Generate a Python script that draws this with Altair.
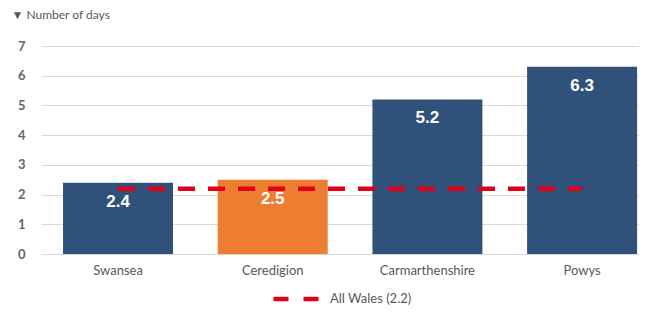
import altair as alt
import pandas as pd

categories = ["Swansea", "Ceredigion", "Carmarthenshire", "Powys"]
values = [2.4, 2.5, 5.2, 6.3]
bar_colors = ["#30527A", "#ED7D31", "#30527A", "#30527A"]
labels = ["2.4", "2.5", "5.2", "6.3"]
wales_value = 2.2
wales_label = "All Wales (2.2)"
y_ticks = [0, 1, 2, 3, 4, 5, 6, 7]

df = pd.DataFrame({"area": categories, "days": values, "color": bar_colors, "label": labels})
df_line = pd.DataFrame({"area": categories, "days": [wales_value] * len(categories),
                        "series": [wales_label] * len(categories)})

FONT = "Lato"
GRAY = "#595959"

x = alt.X("area:N", sort=categories,
          scale=alt.Scale(paddingInner=0.289, paddingOuter=0.0774, align=0.92),
          axis=alt.Axis(title=None, labelAngle=0, ticks=False, domain=False,
                        labelFont=FONT, labelFontSize=13, labelColor=GRAY, labelPadding=10))
y = alt.Y("days:Q", scale=alt.Scale(domain=[0, 7], nice=False),
          axis=alt.Axis(values=y_ticks, tickCount=len(y_ticks), labelOverlap=False,
                        title="▼ Number of days", titleAngle=0,
                        titleAlign="left", titleBaseline="middle", titleX=-30, titleY=-32,
                        titleFont=FONT, titleFontSize=12, titleFontWeight="normal",
                        titleColor=GRAY, ticks=False, domain=False,
                        labelFont=FONT, labelFontSize=13, labelFontWeight="bold",
                        labelColor="#666666", labelPadding=16,
                        gridColor="#D9D9D9", gridWidth=1))

bars = alt.Chart(df).mark_bar().encode(
    x=x, y=y, color=alt.Color("color:N", scale=None)
)

line = alt.Chart(df_line).mark_line(strokeDash=[17, 13], strokeWidth=4.5, strokeCap="butt").encode(
    x=x,
    y=y,
    stroke=alt.Stroke("series:N",
                      scale=alt.Scale(domain=[wales_label], range=["#E3001B"]),
                      legend=alt.Legend(title=None, orient="none", legendX=230, legendY=227,
                                        symbolType="stroke", symbolSize=2209,
                                        symbolStrokeWidth=4.5, symbolDash=[15, 15],
                                        labelFont=FONT, labelFontSize=13, labelColor=GRAY,
                                        labelOffset=7, padding=0))
)

text = alt.Chart(df).mark_text(color="white", font="Liberation Sans", fontWeight="bold",
                               fontSize=17, baseline="middle", dy=19).encode(
    x=x, y=y, text="label:N"
)

chart = alt.layer(bars, line, text).properties(
    width=598, height=208,
    autosize=alt.AutoSizeParams(type="none"),
    padding={"left": 33, "top": 38, "right": 0, "bottom": 53},
    background="white",
).configure_view(stroke=None)

chart.save("out.html", embed_options={"renderer": "svg", "actions": False})
